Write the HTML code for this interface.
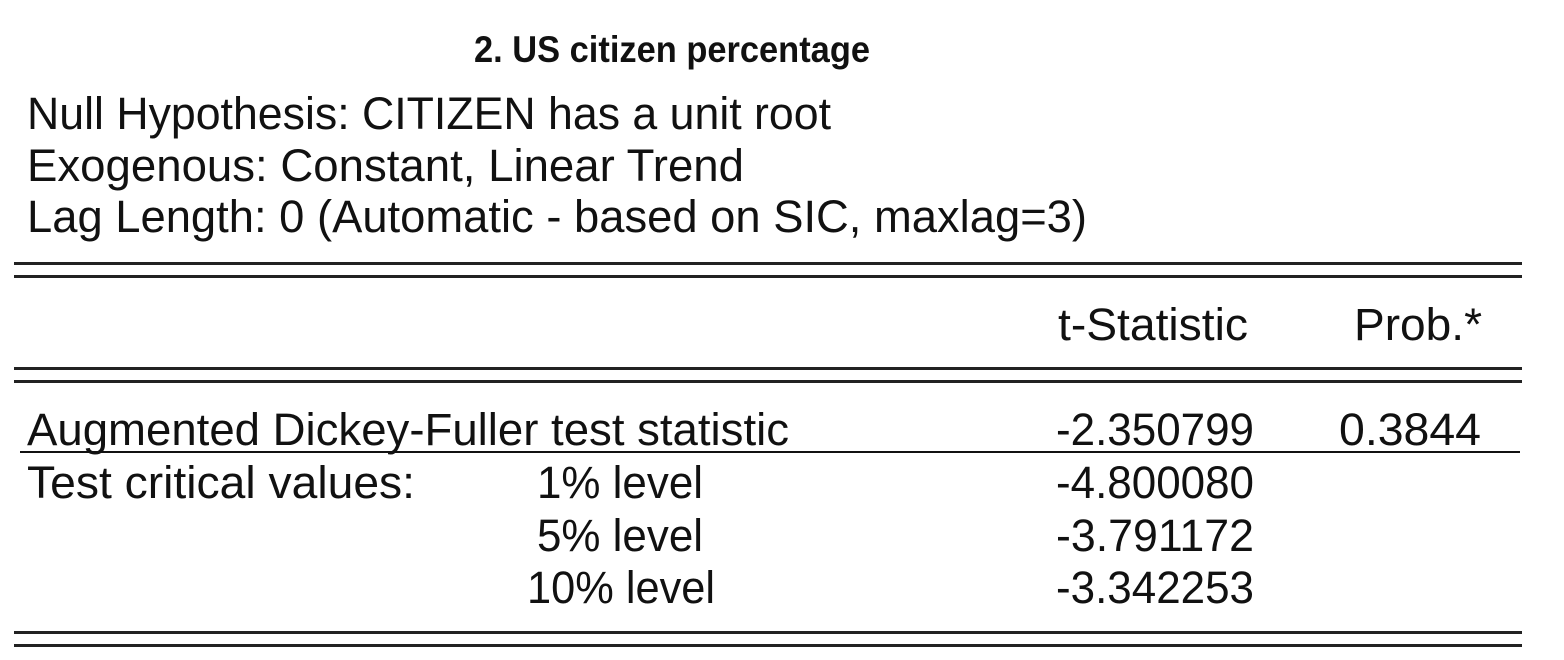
<!DOCTYPE html>
<html><head><meta charset="utf-8"><style>
html,body{margin:0;padding:0;background:#fff;}
svg{display:block;}
text{font-family:"Liberation Sans",Arial,sans-serif;fill:#111;}
</style></head><body>
<svg width="1564" height="660" viewBox="0 0 1564 660">
<text x="672" y="62" font-size="37" font-weight="bold" text-anchor="middle" textLength="396" lengthAdjust="spacingAndGlyphs">2. US citizen percentage</text>
<text x="27" y="129" font-size="45" textLength="804" lengthAdjust="spacingAndGlyphs">Null Hypothesis: CITIZEN has a unit root</text>
<text x="27" y="181" font-size="45" textLength="717" lengthAdjust="spacingAndGlyphs">Exogenous: Constant, Linear Trend</text>
<text x="27" y="232" font-size="45" textLength="1060" lengthAdjust="spacingAndGlyphs">Lag Length: 0 (Automatic - based on SIC, maxlag=3)</text>
<g fill="#222">
<rect x="14" y="262" width="1508" height="3"/><rect x="14" y="275" width="1508" height="3"/></g>
<text x="1248" y="340" font-size="45" text-anchor="end" textLength="190" lengthAdjust="spacingAndGlyphs">t-Statistic</text>
<text x="1482" y="340" font-size="45" text-anchor="end" textLength="128" lengthAdjust="spacingAndGlyphs">Prob.*</text>
<g fill="#222">
<rect x="14" y="367" width="1508" height="3"/><rect x="14" y="380" width="1508" height="3"/></g>
<text x="27" y="445" font-size="45" textLength="762" lengthAdjust="spacingAndGlyphs">Augmented Dickey-Fuller test statistic</text>
<text x="1254" y="445" font-size="45" text-anchor="end" textLength="198" lengthAdjust="spacingAndGlyphs">-2.350799</text>
<text x="1481" y="445" font-size="45" text-anchor="end" textLength="142" lengthAdjust="spacingAndGlyphs">0.3844</text>
<rect x="20" y="451" width="1500" height="2" fill="#111"/>
<text x="27" y="498" font-size="45" textLength="388" lengthAdjust="spacingAndGlyphs">Test critical values:</text>
<text x="703" y="498" font-size="45" text-anchor="end" textLength="166" lengthAdjust="spacingAndGlyphs">1% level</text>
<text x="1254" y="498" font-size="45" text-anchor="end" textLength="198" lengthAdjust="spacingAndGlyphs">-4.800080</text>
<text x="703" y="551" font-size="45" text-anchor="end" textLength="166" lengthAdjust="spacingAndGlyphs">5% level</text>
<text x="1254" y="551" font-size="45" text-anchor="end" textLength="198" lengthAdjust="spacingAndGlyphs">-3.791172</text>
<text x="715" y="603" font-size="45" text-anchor="end" textLength="188" lengthAdjust="spacingAndGlyphs">10% level</text>
<text x="1254" y="603" font-size="45" text-anchor="end" textLength="198" lengthAdjust="spacingAndGlyphs">-3.342253</text>
<g fill="#222">
<rect x="14" y="631" width="1508" height="3"/><rect x="14" y="644" width="1508" height="3"/></g>
</svg>
</body></html>
